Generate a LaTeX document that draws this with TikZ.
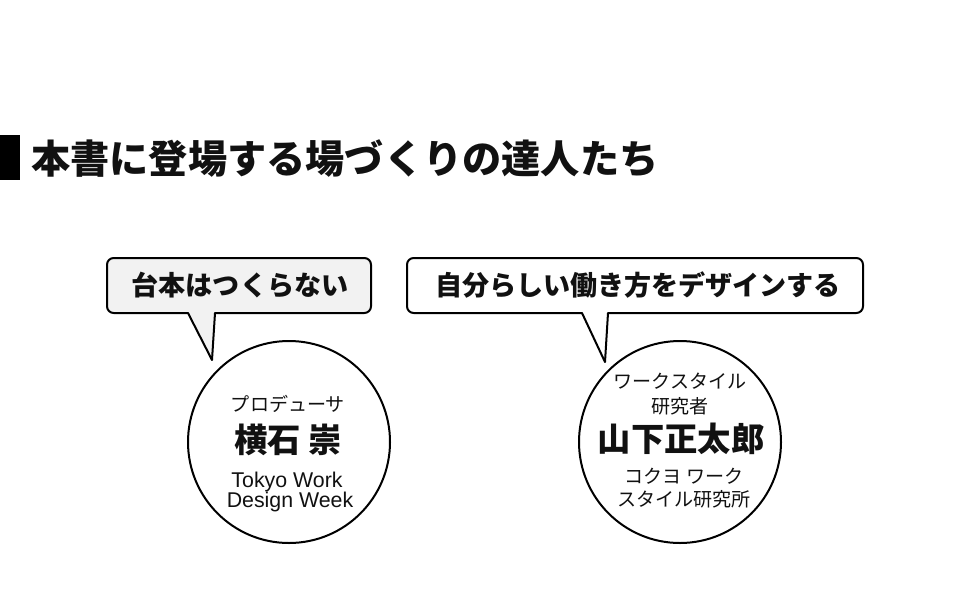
\documentclass[tikz,border=0pt]{standalone}
\usepackage{fontspec}
\setmainfont{Liberation Sans}
\newfontfamily\jp{Noto Sans CJK JP}
\definecolor{bubblegray}{HTML}{F2F2F2}
\definecolor{ink}{HTML}{111111}
\tikzset{
  bubble/.style={draw=black,line width=1.5pt,line join=round},
  ring/.style={circle,draw=black,line width=1.5pt,minimum size=151.5pt,inner sep=0pt},
  lbl/.style={inner sep=0pt,text=ink},
  titletext/.style={lbl,font=\jp\bfseries\fontsize{29.4}{34}\selectfont},
  bubtext/.style={lbl,font=\jp\bfseries\fontsize{20.3}{24}\selectfont},
  smalltext/.style={lbl,font=\jp\fontsize{14.3}{17}\selectfont},
  nametext/.style={lbl,font=\jp\bfseries\fontsize{25}{30}\selectfont},
  latintext/.style={lbl,anchor=base,font=\fontsize{16}{19}\selectfont}
}
\begin{document}
\begin{tikzpicture}[x=0.75pt,y=-0.75pt]
\useasboundingbox (0,0) rectangle (970,600);
\fill[white] (0,0) rectangle (970,600);
% title
\fill[black] (0,135) rectangle (20,180);
\node[titletext,anchor=west] (title) at (31,159) {本書に登場する場づくりの達人たち};
% circles
\node[ring] (c1) at (289,442) {};
\node[ring] (c2) at (680,442) {};
% bubble 1
\draw[bubble,fill=bubblegray] (212,360) -- (188,313) [rounded corners=5] -- (107,313) -- (107,258) -- (371,258) -- (371,313) [sharp corners] -- (215,313) -- cycle;
\node[bubtext] (b1) at (240,285) {台本はつくらない};
% bubble 2
\draw[bubble,fill=white] (605,362) -- (582,313) [rounded corners=5] -- (407,313) -- (407,258) -- (863,258) -- (863,313) [sharp corners] -- (608,313) -- cycle;
\node[bubtext] (b2) at (638,285) {自分らしい働き方をデザインする};
% circle 1 text
\node[smalltext] (r1) at (288,404) {プロデューサ};
\node[nametext] (n1) at (288,440) {横石 崇};
\node[latintext] (t1) at (287,487) {Tokyo Work};
\node[latintext] (t2) at (290,507) {Design Week};
% circle 2 text
\node[smalltext] (r2a) at (680,381) {ワークスタイル};
\node[smalltext] (r2b) at (680,406) {研究者};
\node[nametext] (n2) at (681,439) {山下正太郎};
\node[smalltext] (o1) at (684,476) {コクヨ ワーク};
\node[smalltext] (o2) at (684,499) {スタイル研究所};
\end{tikzpicture}
\end{document}
